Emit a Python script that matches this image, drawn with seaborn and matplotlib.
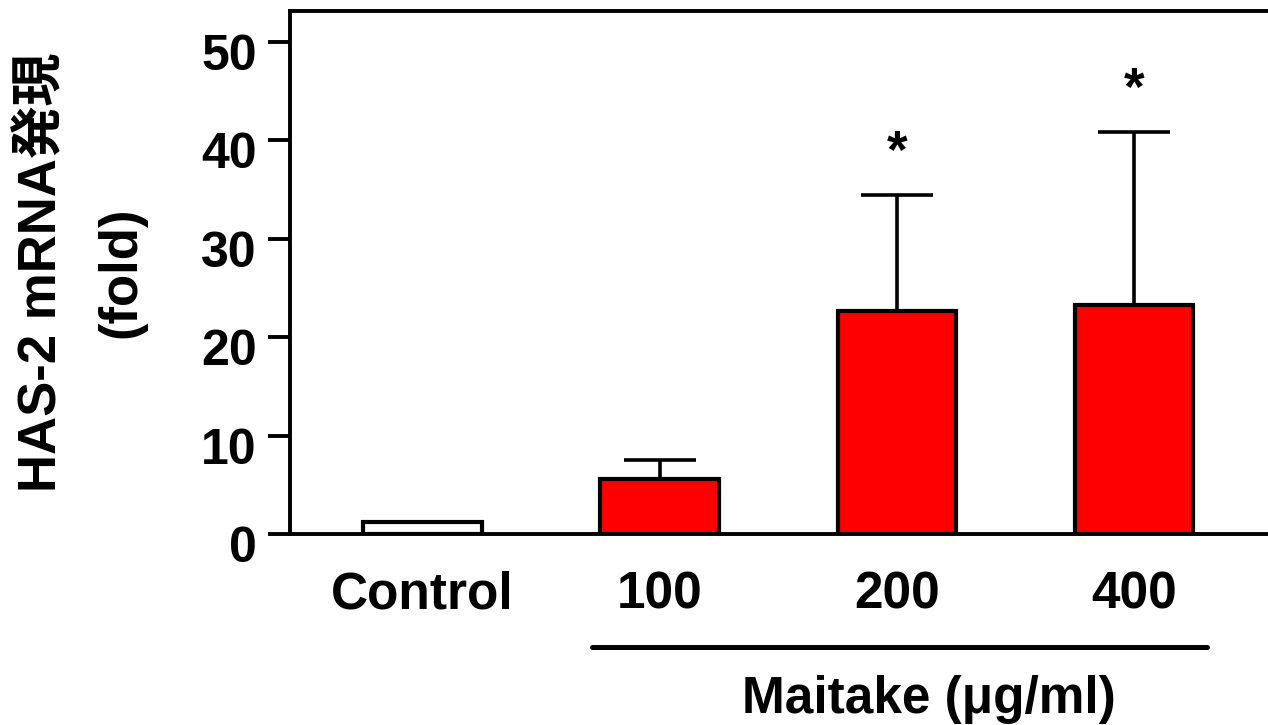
import matplotlib
matplotlib.use("Agg")
import matplotlib.pyplot as plt
import matplotlib.transforms as mtransforms
import seaborn as sns
import pandas as pd

# ---- data ----
categories = ["Control", "100", "200", "400"]
means = [1.2, 5.6, 22.7, 23.3]
errors = [0.0, 1.9, 11.8, 17.6]
significant = [False, False, True, True]
y_ticks = [0, 10, 20, 30, 40, 50]
ylabel_line1 = "HAS-2 mRNA発現"
ylabel_line2 = "(fold)"
xgroup_label = "Maitake (μg/ml)"

bar_colors = ["#FFFFFF", "#FF0000", "#FF0000", "#FF0000"]

sns.set_style("white")
plt.rcParams["font.family"] = ["Liberation Sans", "Noto Sans CJK JP", "DejaVu Sans"]
plt.rcParams["font.weight"] = "bold"
for k in ["text.color", "axes.labelcolor", "xtick.color", "ytick.color",
          "axes.edgecolor"]:
    plt.rcParams[k] = "black"

W, H, DPI = 1268, 725, 100
fig = plt.figure(figsize=(W / DPI, H / DPI), dpi=DPI)
ax = fig.add_axes([290 / W, 1 - 534 / H, (W - 290) / W, (534 - 11) / H])

df = pd.DataFrame({"cat": categories, "mean": means})
sns.barplot(data=df, x="cat", y="mean", hue="cat", palette=bar_colors,
            saturation=1, legend=False, edgecolor="black", linewidth=3.0,
            width=0.5, ax=ax, zorder=2)

# upward-only error bars for Maitake groups
idx = [i for i, e in enumerate(errors) if e > 0]
ax.errorbar(x=idx, y=[means[i] for i in idx],
            yerr=[[0] * len(idx), [errors[i] for i in idx]],
            fmt="none", ecolor="black", elinewidth=2.6, capsize=26,
            capthick=2.6, zorder=1)

for i, sig in enumerate(significant):
    if sig:
        ax.annotate("*", xy=(i, means[i] + errors[i]), xytext=(0, 19),
                    textcoords="offset points", ha="center", va="baseline",
                    fontsize=38, fontweight="bold", color="black")

ax.set_xlim(-0.559, 3.565)
ax.set_ylim(0, 53.15)
ax.set_yticks(y_ticks)
ax.set_yticklabels([str(t) for t in y_ticks])
ax.set_xlabel("")
ax.set_ylabel("")

for s in ["left", "bottom", "top"]:
    ax.spines[s].set_visible(True)
    ax.spines[s].set_linewidth(2.8)
    ax.spines[s].set_color("black")
ax.spines["right"].set_visible(False)

ax.tick_params(axis="y", which="major", direction="out", length=16, width=2.8,
               pad=8, labelsize=36, color="black", labelcolor="black", left=True)
ax.tick_params(axis="x", which="major", length=0, pad=26, labelsize=37,
               labelcolor="black")
for lbl in ax.get_yticklabels() + ax.get_xticklabels():
    lbl.set_fontweight("bold")

off = mtransforms.ScaledTranslation(0, -10 / DPI, fig.dpi_scale_trans)
for lbl in ax.get_yticklabels():
    lbl.set_transform(lbl.get_transform() + off)

# y label (two lines)
fig.text(42 / W, 1 - 272 / H, ylabel_line1, rotation=90, ha="center",
         va="center", fontsize=38, fontweight="bold", color="black")
fig.text(121 / W, 1 - 272 / H, ylabel_line2, rotation=90, ha="center",
         va="center", fontsize=38, fontweight="bold", color="black")

# group line and label
fig.add_artist(plt.Line2D([592 / W, 1207 / W], [1 - 647 / H, 1 - 647 / H],
                          transform=fig.transFigure, color="black", lw=3.6))
fig.text(929 / W, 1 - 699 / H, xgroup_label, ha="center", va="center",
         fontsize=37, fontweight="bold", color="black")

fig.savefig("out.png", dpi=DPI, facecolor="white")
